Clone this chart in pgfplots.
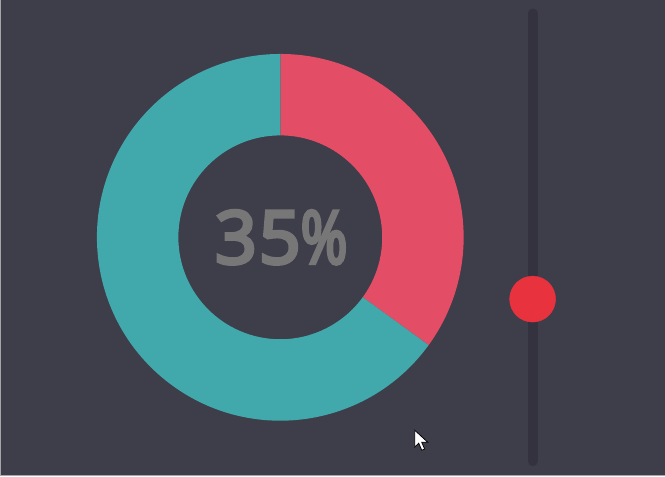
\documentclass[border=0pt]{standalone}
\usepackage{pgfplots}
\usepackage{pgfplotstable}
\usepackage{fontspec}
\setmainfont{Open Sans}
\newfontfamily\bignum[LetterSpace=3, FakeBold=5]{Open Sans}
\pgfplotsset{compat=1.18}
\definecolor{bg}{HTML}{3E3D4A}
\definecolor{done}{HTML}{E44D66}
\definecolor{rest}{HTML}{41A9AB}
\definecolor{track}{HTML}{33323E}
\definecolor{knob}{HTML}{E8333F}
\definecolor{label}{HTML}{777777}

\pgfplotstableread{
part value
done 35
rest 65
}\donut

\begin{document}
\begin{tikzpicture}
\pgfplotstablegetelem{0}{value}\of\donut
\pgfmathsetmacro{\pct}{\pgfplotsretval}
\pgfmathsetmacro{\split}{90-3.6*\pct}
\pgfmathsetmacro{\knoby}{466-23-\pct/100*(458-46)}
\def\cx{280.5}\def\cy{237}\def\R{183.5}\def\r{102}
\begin{axis}[
    width=665pt, height=476pt, scale only axis,
    xmin=0, xmax=665, ymin=0, ymax=476, y dir=reverse,
    hide axis, clip=false,
  ]
  % background
  \fill[bg] (axis cs:0,0) rectangle (axis cs:665,476);
  \draw[gray!70, line width=1pt] (axis cs:0.5,0) -- (axis cs:0.5,475.5) -- (axis cs:665,475.5);
  % donut
  \fill[done] (axis cs:\cx,\cy) ++(90:\R pt) arc[start angle=90, end angle=\split, radius=\R pt]
    -- ([shift={(\split:\r pt)}]axis cs:\cx,\cy) arc[start angle=\split, end angle=90, radius=\r pt] -- cycle;
  \fill[rest] ([shift={(\split:\R pt)}]axis cs:\cx,\cy) arc[start angle=\split, end angle=-270, radius=\R pt]
    -- ([shift={(-270:\r pt)}]axis cs:\cx,\cy) arc[start angle=-270, end angle=\split, radius=\r pt] -- cycle;
  \node[text=label, font=\bignum\fontsize{73}{73}\selectfont, inner sep=0pt, anchor=center]
    at (axis cs:\cx+1,\cy) {\pgfmathprintnumber[fixed,precision=0,assume math mode=true]{\pct}\scalebox{0.78}[1]{\%}};
  % slider
  \addplot[track, line width=10pt, line cap=round] coordinates {(533,13) (533,461)};
  \addplot[only marks, mark=*, mark size=23pt, knob, mark options={draw=knob}] coordinates {(533,\knoby)};
  % pointer
  \draw[fill=white, draw=black, line width=0.8pt, line join=miter]
    (axis cs:415,430) -- (axis cs:415,447) -- (axis cs:419,443) -- (axis cs:422,450)
    -- (axis cs:425,449) -- (axis cs:422,442) -- (axis cs:428,442) -- cycle;
\end{axis}
\end{tikzpicture}
\end{document}
